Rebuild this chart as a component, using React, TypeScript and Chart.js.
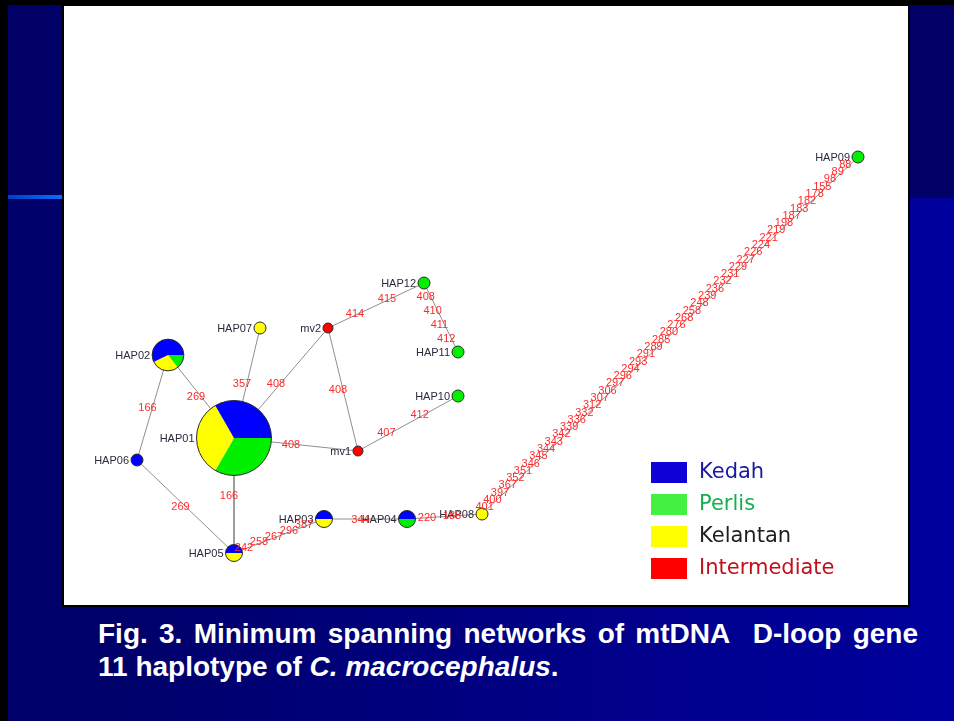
import React, { useEffect, useRef } from "react";
import { Chart, registerables } from "chart.js";
Chart.register(...registerables);

// ---- Data ----
const nodeNames = ["HAP01", "HAP02", "HAP03", "HAP04", "HAP05", "HAP06", "HAP07", "HAP08", "HAP09", "HAP10", "HAP11", "HAP12", "mv1", "mv2"];
// network layout coordinates
const nodeX = [170, 104, 260, 343, 170, 73, 196, 418, 794, 394, 394, 360, 294, 264];
const nodeY = [432, 349, 513, 513, 547, 454, 322, 508, 151, 390, 346, 277, 445, 322];
const kedahCount = [13, 4, 1, 1, 1, 1, 0, 0, 0, 0, 0, 0, 0, 0];
const perlisCount = [13, 1, 0, 1, 0, 0, 0, 0, 1, 1, 1, 1, 0, 0];
const kelantanCount = [13, 2, 1, 0, 1, 0, 1, 1, 0, 0, 0, 0, 0, 0];
const intermediateNode = [0, 0, 0, 0, 0, 0, 0, 0, 0, 0, 0, 0, 1, 1];

const edgeFrom = ["HAP02", "HAP02", "HAP06", "HAP01", "HAP01", "HAP01", "HAP01", "mv2", "mv2", "HAP12", "mv1", "HAP05", "HAP03", "HAP04", "HAP08"];
const edgeTo = ["HAP01", "HAP06", "HAP05", "HAP05", "HAP07", "mv2", "mv1", "mv1", "HAP12", "HAP11", "HAP10", "HAP03", "HAP04", "HAP08", "HAP09"];
const edgeMutations: string[][] = [
  ["269"],
  ["166"],
  ["269"],
  ["166"],
  ["357"],
  ["408"],
  ["408"],
  ["408"],
  ["414", "415"],
  ["408", "410", "411", "412"],
  ["407", "412"],
  ["242", "258", "267", "296", "387"],
  ["344"],
  ["220", "188"],
  ["401", "400", "397", "367", "352", "351", "346", "345", "344", "343", "342", "339", "336", "332", "312", "307", "306", "297", "296", "294", "293", "291", "289", "285", "280", "276", "268", "258", "248", "239", "236", "232", "231", "229", "227", "226", "224", "221", "219", "198", "187", "183", "182", "178", "155", "98", "89", "88"],
];

const legendLabels = ["Kedah", "Perlis", "Kelantan", "Intermediate"];
const legendBoxColors = ["#1000d8", "#44f040", "#ffff00", "#ff0000"];
const legendTextColors = ["#1a1aa0", "#14b050", "#1e1e1e", "#c0101a"];

const COLOR_KEDAH = "#0000ff";
const COLOR_PERLIS = "#00f000";
const COLOR_KELANTAN = "#ffff00";
const COLOR_INTER = "#ff0000";

const PANEL_W = 844;
const PANEL_H = 599;

function nodeRadius(i: number) {
  const total = kedahCount[i] + perlisCount[i] + kelantanCount[i];
  if (intermediateNode[i]) return 5;
  return 6 * Math.sqrt(total);
}

const networkPlugin = {
  id: "network",
  afterDatasetsDraw(chart: any) {
    const ctx = chart.ctx as CanvasRenderingContext2D;
    const nodeMeta = chart.getDatasetMeta(chart.data.datasets.length - 1);
    const pos = (name: string) => {
      const i = nodeNames.indexOf(name);
      const el = nodeMeta.data[i];
      return { x: el.x, y: el.y, i };
    };
    ctx.save();
    // pies
    nodeNames.forEach((name, i) => {
      const p = pos(name);
      const r = nodeRadius(i);
      if (intermediateNode[i]) {
        ctx.beginPath();
        ctx.arc(p.x, p.y, r, 0, Math.PI * 2);
        ctx.fillStyle = COLOR_INTER;
        ctx.fill();
      } else {
        const parts = [
          [perlisCount[i], COLOR_PERLIS],
          [kelantanCount[i], COLOR_KELANTAN],
          [kedahCount[i], COLOR_KEDAH],
        ] as [number, string][];
        const total = parts.reduce((s, a) => s + a[0], 0);
        let a0 = 0;
        parts.forEach(([v, c]) => {
          if (!v) return;
          const a1 = a0 + (v / total) * Math.PI * 2;
          ctx.beginPath();
          if (v === total) {
            ctx.arc(p.x, p.y, r, 0, Math.PI * 2);
          } else {
            ctx.moveTo(p.x, p.y);
            ctx.arc(p.x, p.y, r, a0, a1);
            ctx.closePath();
          }
          ctx.fillStyle = c;
          ctx.fill();
          a0 = a1;
        });
      }
      ctx.beginPath();
      ctx.arc(p.x, p.y, r, 0, Math.PI * 2);
      ctx.strokeStyle = "#2a2a2a";
      ctx.lineWidth = 1;
      ctx.stroke();
    });
    // node names
    ctx.font = "11px 'Liberation Sans', Arial, sans-serif";
    ctx.textAlign = "right";
    ctx.textBaseline = "middle";
    ctx.fillStyle = "#2b2b3b";
    nodeNames.forEach((name, i) => {
      const p = pos(name);
      ctx.fillText(name, p.x - nodeRadius(i) - 2, p.y + 0.5);
    });
    // mutation labels
    ctx.textAlign = "center";
    ctx.fillStyle = "#ff2a2a";
    edgeFrom.forEach((f, e) => {
      const a = pos(f);
      const b = pos(edgeTo[e]);
      const muts = edgeMutations[e];
      const n = muts.length;
      muts.forEach((m, k) => {
        const t = (k + 1) / (n + 1);
        ctx.fillText(m, a.x + (b.x - a.x) * t - 5, a.y + (b.y - a.y) * t + 0.5);
      });
    });
    // legend
    const lx = 587, ly = 456, pitch = 32;
    legendLabels.forEach((lab, k) => {
      ctx.fillStyle = legendBoxColors[k];
      ctx.fillRect(lx, ly + k * pitch, 36, 21);
      ctx.fillStyle = legendTextColors[k];
      ctx.font = "21px 'DejaVu Sans', Verdana, sans-serif";
      ctx.textAlign = "left";
      ctx.textBaseline = "middle";
      ctx.fillText(lab, lx + 48, ly + k * pitch + 11);
    });
    ctx.restore();
  },
};

export default function App() {
  const ref = useRef<HTMLCanvasElement>(null);
  useEffect(() => {
    const canvas = ref.current;
    if (!canvas) return;
    const edgeDatasets = edgeFrom.map((f, e) => {
      const i = nodeNames.indexOf(f);
      const j = nodeNames.indexOf(edgeTo[e]);
      return {
        type: "scatter" as const,
        data: [
          { x: nodeX[i], y: nodeY[i] },
          { x: nodeX[j], y: nodeY[j] },
        ],
        showLine: true,
        borderColor: "#8f8f8f",
        borderWidth: 1,
        pointRadius: 0,
        clip: false as any,
      };
    });
    const nodeDataset = {
      type: "scatter" as const,
      data: nodeNames.map((_, i) => ({ x: nodeX[i], y: nodeY[i] })),
      pointRadius: nodeNames.map((_, i) => nodeRadius(i)),
      pointBackgroundColor: "rgba(0,0,0,0)",
      pointBorderColor: "rgba(0,0,0,0)",
      pointBorderWidth: 0,
      clip: false as any,
    };
    const chart = new Chart(canvas, {
      type: "scatter",
      data: { datasets: [...edgeDatasets, nodeDataset] as any },
      options: {
        animation: false,
        responsive: false,
        maintainAspectRatio: false,
        layout: { padding: 0, autoPadding: false } as any,
        events: [],
        scales: {
          x: { type: "linear", min: 0, max: PANEL_W, display: false },
          y: { type: "linear", min: 0, max: PANEL_H, reverse: true, display: false },
        },
        plugins: { legend: { display: false }, tooltip: { enabled: false } },
      },
      plugins: [networkPlugin],
    });
    return () => chart.destroy();
  }, []);

  return (
    <div style={{ position: "absolute", left: 0, top: 0, width: 954, height: 721, background: "#000", overflow: "hidden" }}>
      <div style={{ position: "absolute", left: 8, top: 5, width: 946, height: 194, background: "#000066" }} />
      <div style={{ position: "absolute", left: 8, top: 198, width: 946, height: 523, background: "linear-gradient(to right, #00006a 10%, #00009e 100%)" }} />
      <div style={{ position: "absolute", left: 8, top: 195, width: 55, height: 4, background: "linear-gradient(to right, #0040c0, #0a70ff)" }} />
      <div style={{ position: "absolute", left: 62, top: 4, width: 848, height: 603, background: "#fff", border: "2px solid #000", boxSizing: "border-box" }} />
      <canvas ref={ref} width={PANEL_W} height={PANEL_H} style={{ position: "absolute", left: 64, top: 6, width: PANEL_W, height: PANEL_H }} />
      <div style={{ position: "absolute", left: 98, top: 617, width: 820, color: "#fff", fontFamily: "'Liberation Sans', Arial, sans-serif", fontWeight: "bold", fontSize: 28, lineHeight: "33px" }}>
        <div style={{ textAlign: "justify", textAlignLast: "justify", whiteSpace: "nowrap" as any }}>Fig. 3. Minimum spanning networks of mtDNA{"\u00a0"} D-loop gene</div>
        <div>11 haplotype of <i>C. macrocephalus</i>.</div>
      </div>
    </div>
  );
}
